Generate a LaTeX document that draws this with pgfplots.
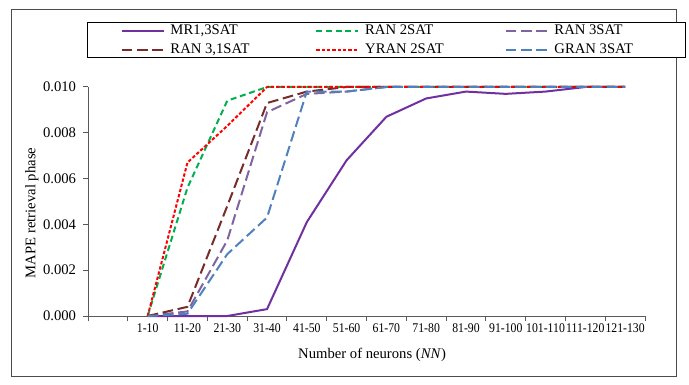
\documentclass[border=0pt]{standalone}
\usepackage{fontspec}
\setmainfont{Liberation Serif}
\usepackage{pgfplots}
\pgfplotsset{compat=1.18}
\definecolor{mrpurple}{HTML}{7030A0}
\definecolor{rangreen}{HTML}{00B050}
\definecolor{ranlilac}{HTML}{8064A2}
\definecolor{ranbrown}{HTML}{772C2A}
\definecolor{yranred}{HTML}{FF0000}
\definecolor{granblue}{HTML}{4F81BD}
\definecolor{axisgray}{HTML}{595959}

\begin{document}
\begin{tikzpicture}[font=\fontsize{11bp}{13bp}\selectfont]
\path[use as bounding box] (0,0) rectangle (516.75bp,288.75bp);
\draw[black!70, line width=0.75bp] (8.25bp,6bp) rectangle (507bp,281.25bp);
\begin{axis}[
  at={(66bp,51.75bp)}, anchor=south west,
  scale only axis, width=417.75bp, height=171.75bp,
  xmin=-0.5, xmax=13.5, ymin=0, ymax=0.010,
  clip=false,
  axis lines=left,
  axis line style={-, draw=axisgray, line width=0.75bp},
  tick style={draw=axisgray, line width=0.75bp},
  tick align=outside,
  major tick length=3.75bp,
  xtick={-0.5,0.5,...,13.5},
  x tick label as interval,
  xticklabels={,1-10,11-20,21-30,31-40,41-50,51-60,61-70,71-80,81-90,91-100,101-110,111-120,121-130},
  ytick={0,0.002,0.004,0.006,0.008,0.010},
  scaled y ticks=false,
  yticklabel style={/pgf/number format/fixed, /pgf/number format/fixed zerofill,
    /pgf/number format/precision=3, /pgf/number format/assume math mode=true,
    anchor=east, inner sep=0pt, xshift=-5bp},
  xticklabel style={anchor=north, inner sep=0pt, yshift=-1.5bp,
    font=\fontsize{10bp}{12bp}\selectfont, xscale=0.88},
  xlabel={Number of neurons (\textit{NN})},
  ylabel={MAPE retrieval phase},
  xlabel style={at={(axis description cs:0.51,-0.172)}, anchor=center},
  ylabel style={at={(axis description cs:-0.101,0.45)}, anchor=center},
  legend columns=3,
  legend image code/.code={\draw[#1] (0bp,0bp) -- (31.5bp,0bp);},
  legend style={at={(axis description cs:-0.0024,1.2824)}, anchor=north west,
    draw=black, line width=0.75bp, fill=white,
    inner xsep=25bp, inner ysep=0.4bp, row sep=3.3bp,
    nodes={inner xsep=2bp, inner ysep=0bp, text height=8.5bp, text depth=2.6bp, anchor=center},
    /tikz/every odd column/.append style={column sep=2.5bp},
    /tikz/every even column/.append style={column sep=14.5bp}},
]
\addplot[mrpurple, line width=1.5bp, solid] coordinates {
(1,0)(2,0)(3,0)(4,0.0003)(5,0.0041)(6,0.0068)(7,0.0087)(8,0.0095)(9,0.0098)(10,0.0097)(11,0.0098)(12,0.0100)(13,0.0100)};
\addlegendentry{\makebox[92bp][l]{MR1,3SAT}}
\addplot[rangreen, line width=1.5bp, dash pattern=on 4.5bp off 2.8bp] coordinates {
(1,0)(2,0.0056)(3,0.0094)(4,0.0100)(5,0.0100)(6,0.0100)(7,0.0100)(8,0.0100)(9,0.0100)(10,0.0100)(11,0.0100)(12,0.0100)(13,0.0100)};
\addlegendentry{\makebox[88bp][l]{RAN 2SAT}}
\addplot[ranlilac, line width=1.5bp, dash pattern=on 8bp off 3.5bp] coordinates {
(1,0)(2,0.0002)(3,0.0033)(4,0.0089)(5,0.0097)(6,0.0098)(7,0.0100)(8,0.0100)(9,0.0100)(10,0.0100)(11,0.0100)(12,0.0100)(13,0.0100)};
\addlegendentry{\makebox[71bp][l]{RAN 3SAT}}
\addplot[ranbrown, line width=1.5bp, dash pattern=on 8bp off 3.5bp] coordinates {
(1,0)(2,0.0004)(3,0.0048)(4,0.0093)(5,0.0098)(6,0.0100)(7,0.0100)(8,0.0100)(9,0.0100)(10,0.0100)(11,0.0100)(12,0.0100)(13,0.0100)};
\addlegendentry{\makebox[92bp][l]{RAN 3,1SAT}}
\addplot[yranred, line width=1.5bp, dash pattern=on 2.5bp off 1.5bp] coordinates {
(1,0)(2,0.0067)(3,0.0083)(4,0.0100)(5,0.0100)(6,0.0100)(7,0.0100)(8,0.0100)(9,0.0100)(10,0.0100)(11,0.0100)(12,0.0100)(13,0.0100)};
\addlegendentry{\makebox[88bp][l]{YRAN 2SAT}}
\addplot[granblue, line width=1.5bp, dash pattern=on 8bp off 3.5bp] coordinates {
(1,0)(2,0.0001)(3,0.0027)(4,0.0043)(5,0.0098)(6,0.0098)(7,0.0100)(8,0.0100)(9,0.0100)(10,0.0100)(11,0.0100)(12,0.0100)(13,0.0100)};
\addlegendentry{\makebox[71bp][l]{GRAN 3SAT}}
\end{axis}
\end{tikzpicture}
\end{document}
